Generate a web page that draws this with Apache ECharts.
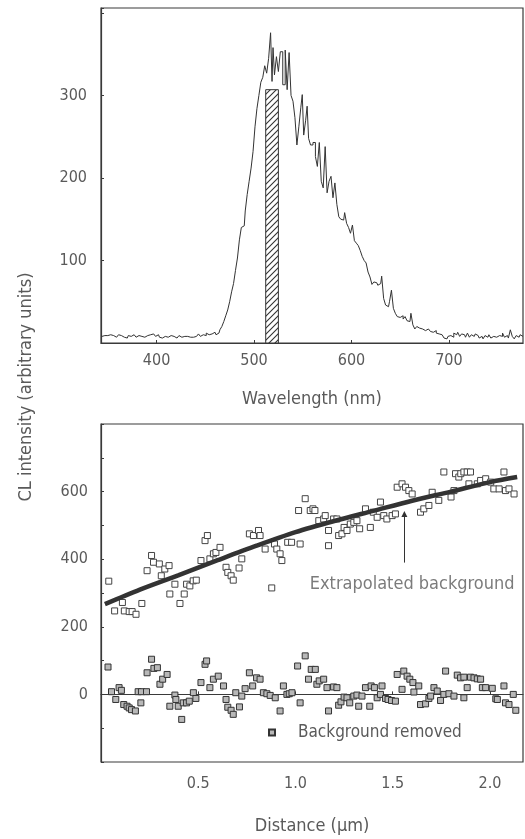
<!DOCTYPE html>
<html>
<head>
<meta charset="utf-8">
<script src="https://cdn.jsdelivr.net/npm/echarts@6/dist/echarts.min.js"></script>
<style>
html,body{margin:0;padding:0;background:#fff;}
#main{width:525px;height:839px;}
</style>
</head>
<body>
<div id="main"></div>
<script>
// ---------- DATA ----------
// Top panel: CL spectrum [wavelength nm, intensity]
const spectrum = [
[344,8],[346,9],[348,7],[350,9],[352,10],[354,8],[356,9],[358,7],[360,8],[362,10],
[364,9],[366,7],[368,8],[370,6],[372,9],[374,8],[376,10],[378,8],[380,7],[382,9],
[384,8],[386,6],[388,7],[390,9],[392,8],[394,10],[396,11],[398,9],[400,8],[402,10],
[404,7],[406,6],[408,8],[410,6],[412,7],[414,9],[416,7],[418,8],[420,6],[422,7],
[424,9],[426,7],[428,8],[430,10],[432,8],[434,7],[436,9],[438,7],[440,8],[442,9],
[444,11],[446,8],[448,10],[450,9],[452,12],[454,10],[456,11],[458,9],[460,13],[462,10],
[464,12],[466,16],[468,20],[470,26],[472,33],[474,40],[476,50],[478,62],[480,72],[482,88],
[484,103],[486,125],[488,140],[490,142],[492,160],[494,180],[496,196],[498,212],[500,232],[502,262],
[504,284],[506,300],[508,316],[510,322],[512,336],[514,327],[516,345],[518,376],[519,317],[520,358],
[522,325],[524,347],[526,329],[528,353],[531,313],[533,355],[535,307],[537,352],[539,300],[541,293],
[543,273],[545,240],[547,262],[549,285],[550,301],[552,252],[554,270],[555,287],[557,248],[559,240],
[562,243],[564,226],[566,214],[568,243],[570,196],[572,188],[574,238],[576,182],[578,196],[580,202],
[582,176],[584,194],[586,168],[588,153],[590,150],[592,149],[594,158],[596,145],[598,140],[600,133],
[602,143],[604,124],[606,121],[608,118],[610,112],[612,105],[614,100],[616,97],[618,86],[620,80],
[622,71],[624,74],[626,73],[628,70],[630,72],[632,81],[634,54],[636,46],[638,44],[640,50],
[642,64],[644,42],[646,36],[648,32],[650,31],[652,33],[654,29],[656,32],[658,27],[660,26],
[662,36],[664,22],[666,17],[668,20],[670,18],[672,17],[674,19],[676,15],[678,17],[680,16],
[682,14],[684,13],[686,15],[688,12],[690,11],[692,10],[694,8],[696,6],[698,5],[700,8],
[702,9],[704,7],[706,12],[708,10],[710,13],[712,8],[714,11],[716,10],[718,7],[720,12],
[722,7],[724,10],[726,8],[728,11],[730,9],[732,6],[734,8],[736,5],[738,9],[740,7],
[742,10],[744,6],[746,8],[748,7],[750,6],[752,9],[754,8],[756,12],[758,7],[760,9],
[762,6],[764,16],[766,8],[768,5],[770,9],[772,7],[774,10],[776,8]
];
// hatched detection window [from nm, to nm, height]
const windowBand = [[512, 525, 307]];

// Bottom panel: raw CL profile [distance µm, intensity]
const rawProfile = [
[0.04,335],[0.07,247],[0.11,272],[0.12,247],[0.145,245],[0.16,245],[0.18,237],[0.21,269],[0.237,366],[0.26,411],
[0.27,391],[0.30,386],[0.31,351],[0.328,371],[0.35,381],[0.354,297],[0.38,326],[0.406,269],[0.428,297],[0.44,326],
[0.457,321],[0.474,336],[0.49,338],[0.514,396],[0.535,455],[0.547,470],[0.56,401],[0.578,416],[0.591,420],[0.612,435],
[0.643,376],[0.652,361],[0.669,351],[0.68,338],[0.71,374],[0.724,401],[0.763,475],[0.784,470],[0.81,485],[0.818,470],
[0.844,430],[0.878,315],[0.892,445],[0.904,430],[0.921,416],[0.93,396],[0.96,450],[0.98,450],[1.016,544],[1.024,445],
[1.05,579],[1.076,544],[1.09,549],[1.10,544],[1.12,514],[1.145,519],[1.153,529],[1.17,485],[1.17,440],[1.196,519],
[1.213,519],[1.222,470],[1.239,475],[1.25,494],[1.265,485],[1.282,504],[1.30,509],[1.316,514],[1.33,490],[1.36,549],
[1.385,494],[1.40,539],[1.42,524],[1.437,569],[1.454,529],[1.47,519],[1.497,529],[1.514,534],[1.523,613],[1.548,623],
[1.566,613],[1.583,603],[1.60,593],[1.643,539],[1.66,549],[1.686,559],[1.703,598],[1.737,574],[1.763,658],[1.80,584],
[1.815,603],[1.823,653],[1.84,643],[1.85,653],[1.866,658],[1.883,658],[1.90,658],[1.892,623],[1.935,623],[1.952,633],
[1.978,638],[2.004,628],[2.02,608],[2.047,608],[2.072,658],[2.08,603],[2.098,608],[2.124,593]
];
// extrapolated background curve
const backgroundFit = [
[0.02,267],[0.2,310],[0.4,353],[0.6,397],[0.8,440],[1.0,480],[1.2,513],[1.4,543],[1.6,573],[1.8,600],[2.0,628],[2.14,643]
];
// background-removed profile
const correctedProfile = [
[0.036,81],[0.054,8],[0.076,-15],[0.093,20],[0.105,12],[0.117,-30],[0.134,-35],[0.145,-40],[0.157,-45],[0.177,-49],
[0.191,8],[0.208,8],[0.205,-25],[0.234,8],[0.237,64],[0.26,104],[0.272,77],[0.29,79],[0.303,30],[0.317,45],
[0.34,59],[0.354,-35],[0.38,-2],[0.385,-15],[0.397,-35],[0.415,-74],[0.423,-25],[0.44,-25],[0.454,-20],[0.475,5],
[0.488,-12],[0.514,35],[0.535,89],[0.543,99],[0.56,20],[0.578,45],[0.603,54],[0.63,25],[0.643,-15],[0.652,-38],
[0.669,-47],[0.68,-59],[0.693,5],[0.712,-37],[0.724,-5],[0.741,17],[0.763,64],[0.78,25],[0.80,49],[0.818,45],
[0.835,5],[0.853,2],[0.87,-3],[0.896,-10],[0.921,-49],[0.938,25],[0.956,0],[0.968,2],[0.982,5],[1.011,84],
[1.024,-25],[1.05,114],[1.067,45],[1.081,74],[1.102,74],[1.11,30],[1.122,40],[1.145,45],[1.162,20],[1.17,-49],
[1.196,22],[1.213,20],[1.222,-32],[1.234,-22],[1.25,-8],[1.265,-10],[1.279,-25],[1.30,-5],[1.316,-2],[1.325,-35],
[1.342,-5],[1.36,20],[1.382,-35],[1.389,25],[1.406,20],[1.42,-10],[1.437,0],[1.445,25],[1.463,-12],[1.476,-15],
[1.494,-18],[1.514,-20],[1.523,59],[1.548,15],[1.557,69],[1.574,54],[1.588,45],[1.604,35],[1.609,7],[1.634,25],
[1.643,-30],[1.669,-28],[1.686,-12],[1.695,-5],[1.712,20],[1.729,10],[1.746,-18],[1.763,0],[1.772,69],[1.789,2],
[1.815,-5],[1.832,57],[1.849,49],[1.866,51],[1.866,-10],[1.883,20],[1.90,51],[1.918,49],[1.935,46],[1.952,45],
[1.961,20],[1.978,20],[2.012,18],[2.03,-13],[2.038,-15],[2.072,25],[2.08,-25],[2.098,-30],[2.12,0],[2.133,-47]
];
// annotations
const arrowSegment = [[1.56, 390], [1.56, 534]];
const annotationPoint = [[1.60, 325]];
const annotationText = 'Extrapolated background';

// tick labels
const topXTicks = [400, 500, 600, 700];
const topYTicks = [100, 200, 300];
const botXTicks = [0.5, 1.0, 1.5, 2.0];
const botYTicks = [0, 200, 400, 600];

// ---------- CHART ----------
const FONT = '"DejaVu Sans Condensed", "DejaVu Sans", sans-serif';
const TXT = '#5a5a5a';
const LINE = '#3a3a3a';

const hatch = document.createElement('canvas');
hatch.width = 6; hatch.height = 6;
(function(){
  const c = hatch.getContext('2d');
  c.fillStyle = '#fff'; c.fillRect(0,0,6,6);
  c.strokeStyle = '#333'; c.lineWidth = 1.1;
  c.beginPath();
  c.moveTo(0,6); c.lineTo(6,0);
  c.moveTo(-1,1); c.lineTo(1,-1);
  c.moveTo(5,7); c.lineTo(7,5);
  c.stroke();
})();

function near(list, v){ return list.some(t => Math.abs(t - v) < 1e-6); }

const chart = echarts.init(document.getElementById('main'), null, {renderer:'canvas'});
const axisCommon = {
  axisLine: {show: true, lineStyle: {color: LINE, width: 1.2}},
  axisTick: {show: true, inside: true, length: 3, lineStyle: {color: LINE}},
  splitLine: {show: false},
};
chart.setOption({
  animation: false,
  backgroundColor: '#fff',
  textStyle: {fontFamily: FONT},
  grid: [
    {left: 101, top: 8, right: 2, height: 335, show: true, borderColor: LINE, borderWidth: 1.2},
    {left: 101, top: 424, right: 2, height: 338, show: true, borderColor: LINE, borderWidth: 1.2}
  ],
  xAxis: [
    Object.assign({}, axisCommon, {
      type: 'value', gridIndex: 0, min: 343, max: 776, splitNumber: 5,
      name: 'Wavelength (nm)', nameLocation: 'middle', nameGap: 47,
      nameTextStyle: {fontSize: 18, color: TXT, fontFamily: FONT},
      axisLabel: {margin: 10, fontSize: 16, color: TXT, fontFamily: FONT,
        showMinLabel: false, showMaxLabel: false,
        formatter: v => near(topXTicks, v) ? String(v) : ''}
    }),
    Object.assign({}, axisCommon, {
      type: 'value', gridIndex: 1, min: 0, max: 2.17, interval: 0.5,
      name: 'Distance (\u00b5m)', nameLocation: 'middle', nameGap: 55,
      nameTextStyle: {fontSize: 18, color: TXT, fontFamily: FONT},
      axisLabel: {margin: 14, fontSize: 16, color: TXT, fontFamily: FONT,
        showMinLabel: false, showMaxLabel: false,
        formatter: v => near(botXTicks, v) ? v.toFixed(1) : ''}
    })
  ],
  yAxis: [
    Object.assign({}, axisCommon, {
      type: 'value', gridIndex: 0, min: 0, max: 406, interval: 100,
      axisLabel: {margin: 14, fontSize: 16, color: TXT, fontFamily: FONT,
        formatter: v => near(topYTicks, v) ? String(v) : ''}
    }),
    Object.assign({}, axisCommon, {
      type: 'value', gridIndex: 1, min: -200, max: 800, interval: 100,
      axisLabel: {margin: 13, fontSize: 16, color: TXT, fontFamily: FONT,
        formatter: v => near(botYTicks, v) ? String(v) : ''}
    })
  ],
  legend: {
    data: ['Background removed'],
    left: 268, top: 724, padding: 0,
    itemWidth: 6, itemHeight: 6, icon: 'rect',
    textStyle: {fontSize: 17, color: TXT, fontFamily: FONT, padding: [0,0,0,18]}
  },
  graphic: [{
    type: 'text', x: 26, y: 387, rotation: Math.PI/2,
    style: {text: 'CL intensity (arbitrary units)', fill: TXT, font: '18px ' + FONT,
      textAlign: 'center', textVerticalAlign: 'middle'}
  }],
  series: [
    {
      type: 'custom', xAxisIndex: 0, yAxisIndex: 0, data: windowBand, z: 2,
      encode: {x: [0,1], y: 2},
      renderItem: (params, api) => {
        const p0 = api.coord([api.value(0), api.value(2)]);
        const p1 = api.coord([api.value(1), 0]);
        return {type: 'rect',
          shape: {x: p0[0], y: p0[1], width: p1[0]-p0[0], height: p1[1]-p0[1]},
          style: {fill: {image: hatch, repeat: 'repeat'}, stroke: '#333', lineWidth: 1}};
      }
    },
    {
      type: 'line', xAxisIndex: 0, yAxisIndex: 0, data: spectrum, step: 'middle',
      showSymbol: false, symbol: 'none', z: 3,
      lineStyle: {color: '#333', width: 1}
    },
    {
      name: 'Raw', type: 'scatter', xAxisIndex: 1, yAxisIndex: 1, data: rawProfile,
      symbol: 'rect', symbolSize: 6, z: 3,
      itemStyle: {color: '#fff', borderColor: '#444', borderWidth: 1, opacity: 1}
    },
    {
      type: 'line', xAxisIndex: 1, yAxisIndex: 1, data: backgroundFit, smooth: 0.3,
      showSymbol: false, symbol: 'none', z: 4,
      lineStyle: {color: '#333', width: 4.5}
    },
    {
      name: 'Background removed', type: 'scatter', xAxisIndex: 1, yAxisIndex: 1, data: correctedProfile,
      symbol: 'rect', symbolSize: 6, z: 3,
      itemStyle: {color: '#b8b8b8', borderColor: '#333', borderWidth: 1, opacity: 1}
    },
    {
      type: 'lines', coordinateSystem: 'cartesian2d', xAxisIndex: 1, yAxisIndex: 1, z: 5,
      symbol: ['none', 'triangle'], symbolSize: [0, 6],
      lineStyle: {color: '#333', width: 1, opacity: 1},
      data: [{coords: arrowSegment}]
    },
    {
      type: 'scatter', xAxisIndex: 1, yAxisIndex: 1, data: annotationPoint, symbolSize: 1,
      itemStyle: {color: 'rgba(0,0,0,0)'}, silent: true, z: 5,
      label: {show: true, position: 'inside', formatter: annotationText,
        fontSize: 18, color: TXT, fontFamily: FONT}
    }
  ]
});
</script>
</body>
</html>
